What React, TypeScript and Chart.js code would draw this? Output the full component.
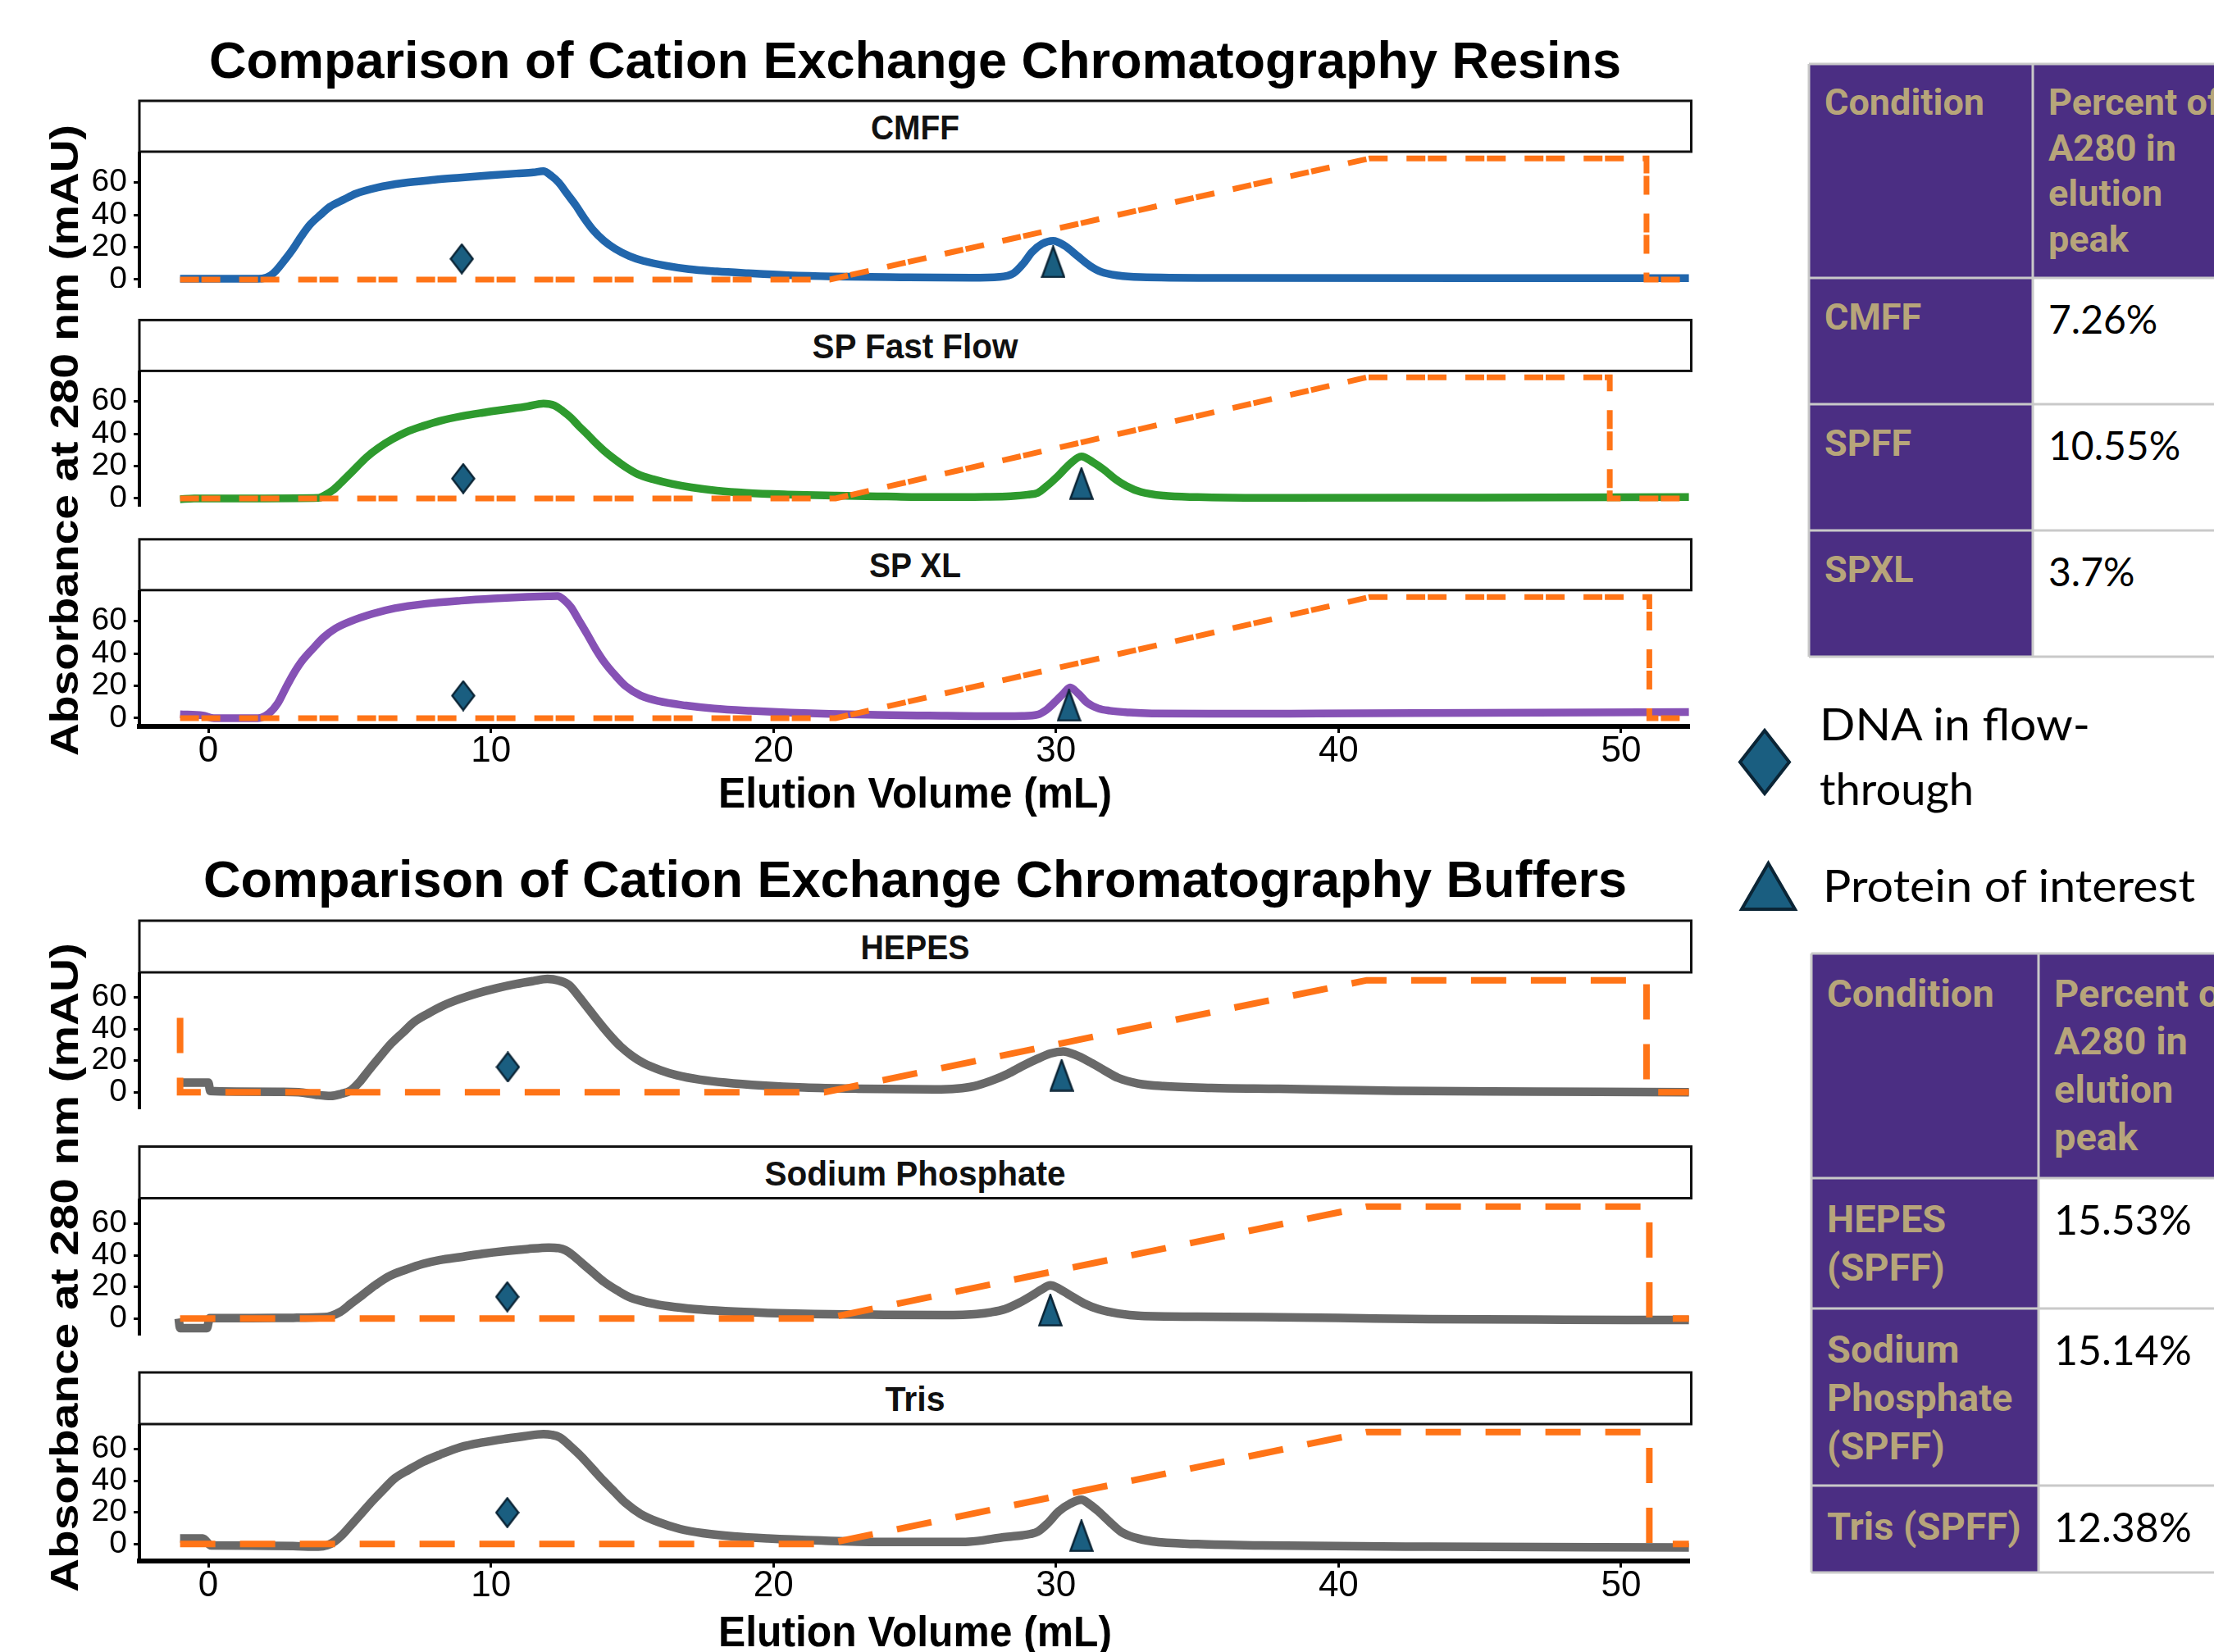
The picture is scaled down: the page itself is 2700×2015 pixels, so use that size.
import React, { useEffect, useRef } from 'react';
import { Chart, registerables } from 'chart.js';

Chart.register(...registerables);

// ------------------------------------------------------------------ data
// Elution volume (mL) / absorbance (mAU)
const cmffVol = [-1.0, 0.0, 1.0, 1.6, 1.9, 2.2, 2.4, 2.7, 3.0, 3.3, 3.6, 4.0, 4.3, 4.8, 5.2, 6.0, 6.9, 8.0, 8.9, 10.0, 10.9, 11.5, 11.85, 12.15, 12.4, 12.7, 13.0, 13.3, 13.6, 14.0, 14.4, 14.9, 15.4, 16.2, 17.0, 18.0, 19.1, 20.5, 22.1, 24.5, 27.0, 28.0, 28.5, 28.85, 29.15, 29.5, 29.9, 30.3, 30.8, 31.2, 31.6, 32.2, 33.0, 36.0, 45.0, 52.4];
const cmffAbs = [0.5, 0.5, 0.5, 0.5, 0.6, 2.5, 5.6, 12, 19, 27, 34, 40.5, 45, 49.5, 53, 57, 59.7, 61.7, 63, 64.5, 65.6, 66.3, 67, 64, 60, 53, 46, 38, 31, 24, 19, 14.5, 11.5, 8.5, 6.4, 5, 3.9, 2.7, 1.9, 1.4, 1.1, 1.6, 3.9, 10, 17, 22, 24, 21, 14, 8.5, 4.7, 2.5, 1.5, 1.0, 0.8, 0.8];

const spffVol = [-1.0, -0.5, 0.0, 2.0, 3.9, 4.1, 4.4, 4.67, 5.0, 5.25, 5.6, 6.0, 6.5, 7.0, 7.6, 8.2, 9.0, 9.7, 10.5, 11.3, 11.86, 12.25, 12.55, 12.83, 13.1, 13.41, 13.7, 14.0, 14.4, 14.77, 15.2, 15.75, 16.4, 17.1, 18.0, 19.05, 20.5, 22.2, 24.0, 25.7, 27.5, 28.4, 29.0, 29.35, 29.7, 30.1, 30.5, 30.9, 31.3, 31.7, 32.1, 32.5, 33.0, 33.8, 35.0, 37.3, 45.0, 52.4];
const spffAbs = [-0.5, 0, 0, 0, 0.3, 1.7, 5, 9.3, 15, 19.4, 25.5, 31, 36.5, 41, 44.8, 48, 51, 53, 55, 57, 58.7, 57.5, 54, 50, 45, 39.7, 34.5, 29.6, 24, 19.4, 15, 11.8, 9, 6.8, 4.8, 3.4, 2.4, 1.7, 1.2, 0.8, 1.0, 1.4, 2.3, 3.4, 8, 14.4, 21.5, 26, 22.5, 17.7, 12, 7.6, 4, 1.7, 0.8, 0.3, 0.5, 0.8];

const spxlVol = [-1.0, -0.2, 0.2, 1.75, 2.14, 2.45, 2.72, 3.0, 3.3, 3.7, 4.08, 4.5, 5.05, 5.8, 6.6, 7.7, 8.94, 10.1, 11.28, 12.0, 12.36, 12.6, 12.83, 13.1, 13.41, 13.7, 14.0, 14.4, 14.77, 15.3, 15.94, 16.9, 17.9, 19.2, 20.6, 22.0, 23.7, 25.5, 27.6, 28.8, 29.35, 29.65, 29.94, 30.25, 30.5, 30.8, 31.1, 31.5, 31.9, 32.6, 33.4, 36.0, 39.3, 45.0, 52.4];
const spxlAbs = [2.4, 1.7, 0, 0, 2.9, 9, 18, 27, 35, 43, 50, 55.5, 60, 64.5, 68, 70.8, 72.7, 74, 75, 75.4, 75.6, 73, 68.8, 61, 51.9, 43, 35, 26.5, 19.8, 14, 10.5, 7.8, 5.9, 4.5, 3.4, 2.6, 2.0, 1.6, 1.2, 1.4, 2.2, 5, 9.6, 15, 19, 15, 9.6, 6, 4.6, 3.5, 2.9, 2.7, 2.9, 3.3, 3.8];

const hepesVol = [-1.0, 0.0, 0.07, 1.0, 2.5, 3.2, 3.8, 4.33, 4.7, 5.04, 5.35, 5.65, 6.05, 6.46, 6.9, 7.28, 7.8, 8.3, 8.9, 9.5, 10.2, 10.9, 11.5, 12.0, 12.4, 12.77, 13.07, 13.37, 13.67, 13.98, 14.3, 14.6, 15.0, 15.4, 16.0, 16.6, 17.4, 18.3, 19.6, 21.1, 23.0, 25.7, 26.5, 27.1, 27.7, 28.3, 28.8, 29.35, 29.8, 30.26, 30.7, 31.17, 31.7, 32.2, 32.9, 33.8, 35.5, 37.9, 42.0, 47.0, 52.4];
const hepesAbs = [6.1, 6.1, 0.8, 0.5, 0.3, 0, -1.5, -2.3, -1.0, 1.2, 6.5, 13.3, 22, 30.6, 38, 44.4, 50, 54.7, 59, 62.5, 65.8, 68.5, 70.3, 71.6, 70.6, 67.7, 61.5, 54.7, 47.8, 40.9, 34.3, 28.8, 23, 18.5, 14, 10.7, 8, 6.1, 4.3, 3.0, 2.3, 1.9, 2.4, 3.9, 7.2, 11.7, 16.5, 21.2, 24.5, 25.8, 23.5, 19.4, 14, 9.1, 5.6, 3.9, 2.8, 2.2, 1.0, 0.5, 0];

const napVol = [-1.05, -1.0, -0.05, 0.05, 1.5, 3.0, 4.1, 4.67, 5.05, 5.44, 5.9, 6.4, 7.0, 7.58, 8.2, 8.94, 9.7, 10.5, 11.3, 12.05, 12.4, 12.64, 12.9, 13.2, 13.6, 14.0, 14.5, 14.97, 15.6, 16.3, 17.2, 18.3, 19.8, 21.4, 23.5, 26.0, 26.7, 27.2, 27.7, 28.2, 28.7, 29.16, 29.5, 29.8, 30.1, 30.5, 31.0, 31.5, 32.2, 33.0, 35.0, 37.3, 40.0, 43.2, 48.0, 52.4];
const napAbs = [0, -6, -6, 0.3, 0.3, 0.5, 0.9, 4.3, 9.5, 14.7, 21, 26.8, 31, 34.5, 37, 38.9, 41, 42.7, 44, 44.9, 44.5, 43.2, 40, 35.4, 29.3, 23.3, 17.5, 13, 10, 7.8, 6, 4.7, 3.6, 2.9, 2.5, 2.2, 2.4, 2.9, 4.0, 6, 10, 14.7, 18.5, 21, 19, 14.7, 9.5, 6, 3.2, 1.7, 1.2, 0.9, 0.4, -0.3, -0.7, -0.9];

const trisVol = [-1.0, -0.2, 0.1, 1.5, 3.0, 3.9, 4.2, 4.47, 4.75, 5.05, 5.45, 5.83, 6.2, 6.6, 7.1, 7.58, 8.2, 8.94, 9.7, 10.5, 11.2, 11.86, 12.15, 12.44, 12.8, 13.2, 13.6, 14.0, 14.4, 14.77, 15.3, 15.94, 16.7, 17.5, 18.6, 19.8, 21.7, 23.7, 26.8, 27.4, 27.8, 28.3, 28.8, 29.1, 29.35, 29.7, 30.1, 30.5, 30.9, 31.2, 31.5, 31.9, 32.3, 32.8, 33.4, 35.0, 37.3, 43.2, 52.4];
const trisAbs = [3.5, 3.5, -0.9, -1.0, -1.3, -1.7, -0.8, 1.7, 6, 12, 20, 27.6, 34.5, 41.5, 47, 51.8, 56.5, 61.3, 64.2, 66.5, 68.2, 69.4, 69, 67.4, 62, 55.3, 47.5, 39.7, 32.5, 25.9, 19, 13.8, 9.5, 6.9, 4.8, 3.5, 2.2, 1.4, 1.4, 2.3, 3.5, 4.6, 5.5, 6.4, 7.8, 13, 20.7, 25.5, 28, 25, 20.7, 14, 7.8, 4, 1.7, 0, -0.9, -1.7, -2.1];

// Conductivity / gradient trace (scaled into mAU units on the plot)
const cmffCondVol = [-1.0, 22.0, 41.1, 50.9, 50.9, 52.4];
const cmffCond = [0, 0, 74.9, 74.9, 0, 0];
const spffCondVol = [-1.0, 22.2, 41.0, 49.6, 49.6, 52.4];
const spffCond = [0, 0, 74.9, 74.9, 0, 0];
const spxlCondVol = [-1.0, 22.2, 41.1, 51.0, 51.0, 52.4];
const spxlCond = [0, 0, 74.9, 74.9, 0, 0];
const hepesCondVol = [-1.0, -1.0, 21.8, 41.0, 50.9, 50.9, 52.4];
const hepesCond = [47, 0, 0, 70.8, 70.8, 0, 0];
const napCondVol = [-1.0, 21.85, 41.0, 51.0, 51.0, 52.4];
const napCond = [0, 0, 70.8, 70.8, 0, 0];
const trisCondVol = [-1.0, 21.85, 41.0, 51.0, 51.0, 52.4];
const trisCond = [0, 0, 70.8, 70.8, 0, 0];

// Markers, in panel order CMFF, SP FF, SP XL, HEPES, Sodium Phosphate, Tris
const dnaVol = [8.97, 9.02, 9.02, 10.6, 10.58, 10.58];
const dnaAbs = [12.8, 12.3, 13.9, 16.0, 13.8, 19.9];
const proteinVol = [29.9, 30.9, 30.46, 30.2, 29.8, 30.9];
const proteinAbs = [10.9, 9.2, 7.9, 10.7, 5.3, 5.2];

const xTickValues = [0, 10, 20, 30, 40, 50];
const yTickValues = [0, 20, 40, 60];

const resinPanelNames = ['CMFF', 'SP Fast Flow', 'SP XL'];
const bufferPanelNames = ['HEPES', 'Sodium Phosphate', 'Tris'];
const resinTitle = 'Comparison of Cation Exchange Chromatography Resins';
const bufferTitle = 'Comparison of Cation Exchange Chromatography Buffers';
const yAxisTitle = 'Absorbance at 280 nm (mAU)';
const xAxisTitle = 'Elution Volume (mL)';

const conditionHeader = 'Condition';
const percentHeaderLines = ['Percent of', 'A280 in', 'elution', 'peak'];
const resinConditions = [['CMFF'], ['SPFF'], ['SPXL']];
const resinPercents = ['7.26%', '10.55%', '3.7%'];
const bufferConditions = [['HEPES', '(SPFF)'], ['Sodium', 'Phosphate', '(SPFF)'], ['Tris (SPFF)']];
const bufferPercents = ['15.53%', '15.14%', '12.38%'];
const legendDnaLines = ['DNA in flow-', 'through'];
const legendProtein = 'Protein of interest';

// ------------------------------------------------------------------ style / layout
const ORANGE = '#ff7417';
const MARKER_FILL = '#1a5e80';
const MARKER_STROKE = '#0b2536';
const UW_PURPLE = '#4b2e83';
const UW_GOLD = '#b7a57a';
const TABLE_LINE = '#c9c9c9';
const SANS = "'Liberation Sans', Arial, Helvetica, sans-serif";
const NARROW = "'Liberation Sans Narrow', 'Liberation Sans', Arial, sans-serif";

const PLOT_LEFT = 170;
const PLOT_RIGHT = 2061;
const X_MIN = -2.44;
const X_MAX = 52.44;
const X_AXIS_H = 70;

const TOP_STRIP = [123, 390.4, 657.8];
const TOP_STRIP_H = 62;
const TOP_PLOT_H = 166;
const BOT_STRIP = [1123, 1398.5, 1674];
const BOT_STRIP_H = 63;
const BOT_PLOT_H = 167;

const stripLabelWidths = [108, 251, 112, 133, 367, 73];

type PanelSpec = {
  idx: number;
  name: string;
  vol: number[];
  abs: number[];
  condVol: number[];
  cond: number[];
  color: string;
  top: number;
  plotH: number;
  isBottom: boolean;
  yMin: number;
  yMax: number;
  dash: number[];
  condWidth: number;
  uvWidth: number;
};

const panels: PanelSpec[] = [
  { idx: 0, name: resinPanelNames[0], vol: cmffVol, abs: cmffAbs, condVol: cmffCondVol, cond: cmffCond, color: '#2166ac', top: TOP_STRIP[0] + TOP_STRIP_H, plotH: TOP_PLOT_H, isBottom: false, yMin: -5.1, yMax: 79.1, dash: [23, 3, 23, 23], condWidth: 7, uvWidth: 9.5 },
  { idx: 1, name: resinPanelNames[1], vol: spffVol, abs: spffAbs, condVol: spffCondVol, cond: spffCond, color: '#2e9a2e', top: TOP_STRIP[1] + TOP_STRIP_H, plotH: TOP_PLOT_H, isBottom: false, yMin: -5.1, yMax: 79.1, dash: [23, 3, 23, 23], condWidth: 7, uvWidth: 9.5 },
  { idx: 2, name: resinPanelNames[2], vol: spxlVol, abs: spxlAbs, condVol: spxlCondVol, cond: spxlCond, color: '#8652b5', top: TOP_STRIP[2] + TOP_STRIP_H, plotH: TOP_PLOT_H, isBottom: true, yMin: -5.1, yMax: 79.1, dash: [23, 3, 23, 23], condWidth: 7, uvWidth: 9.5 },
  { idx: 3, name: bufferPanelNames[0], vol: hepesVol, abs: hepesAbs, condVol: hepesCondVol, cond: hepesCond, color: '#696969', top: BOT_STRIP[0] + BOT_STRIP_H, plotH: BOT_PLOT_H, isBottom: false, yMin: -10.7, yMax: 75.8, dash: [43, 30], condWidth: 8, uvWidth: 10.5 },
  { idx: 4, name: bufferPanelNames[1], vol: napVol, abs: napAbs, condVol: napCondVol, cond: napCond, color: '#696969', top: BOT_STRIP[1] + BOT_STRIP_H, plotH: BOT_PLOT_H, isBottom: false, yMin: -10.7, yMax: 75.8, dash: [43, 30], condWidth: 8, uvWidth: 10.5 },
  { idx: 5, name: bufferPanelNames[2], vol: trisVol, abs: trisAbs, condVol: trisCondVol, cond: trisCond, color: '#696969', top: BOT_STRIP[2] + BOT_STRIP_H, plotH: BOT_PLOT_H, isBottom: true, yMin: -10.7, yMax: 75.8, dash: [43, 30], condWidth: 8, uvWidth: 10.5 },
];

function zip(xs: number[], ys: number[]) {
  return xs.map((x, i) => ({ x, y: ys[i] }));
}

function makeMarker(kind: 'diamond' | 'triangle', w: number, h: number): HTMLCanvasElement {
  const c = document.createElement('canvas');
  c.width = w;
  c.height = h;
  const ctx = c.getContext('2d')!;
  const s = 1.5;
  ctx.beginPath();
  if (kind === 'diamond') {
    ctx.moveTo(w / 2, s);
    ctx.lineTo(w - s, h / 2);
    ctx.lineTo(w / 2, h - s);
    ctx.lineTo(s, h / 2);
  } else {
    ctx.moveTo(w / 2, s);
    ctx.lineTo(w - s, h - s);
    ctx.lineTo(s, h - s);
  }
  ctx.closePath();
  ctx.fillStyle = MARKER_FILL;
  ctx.fill();
  ctx.lineWidth = 2.5;
  ctx.lineJoin = 'miter';
  ctx.strokeStyle = MARKER_STROKE;
  ctx.stroke();
  return c;
}

function ChartPanel({ spec }: { spec: PanelSpec }) {
  const ref = useRef<HTMLCanvasElement | null>(null);
  const canvasH = spec.plotH + (spec.isBottom ? X_AXIS_H : 0);

  useEffect(() => {
    const canvas = ref.current;
    if (!canvas) return;
    const diamond = makeMarker('diamond', 30, 38);
    const triangle = makeMarker('triangle', 30, 40);
    const chart = new Chart(canvas, {
      type: 'line',
      data: {
        datasets: [
          { label: 'DNA in flow-through', data: [{ x: dnaVol[spec.idx], y: dnaAbs[spec.idx] }], showLine: false, pointStyle: diamond as any, pointRadius: 14, order: 0, clip: false },
          { label: 'Protein of interest', data: [{ x: proteinVol[spec.idx], y: proteinAbs[spec.idx] }], showLine: false, pointStyle: triangle as any, pointRadius: 14, order: 0, clip: false },
          { label: 'Gradient', data: zip(spec.condVol, spec.cond), borderColor: ORANGE, borderWidth: spec.condWidth, borderDash: spec.dash, pointRadius: 0, tension: 0, fill: false, order: 1 },
          { label: spec.name, data: zip(spec.vol, spec.abs), borderColor: spec.color, borderWidth: spec.uvWidth, pointRadius: 0, cubicInterpolationMode: 'monotone', borderJoinStyle: 'round', fill: false, order: 2 },
        ] as any,
      },
      options: {
        animation: false,
        responsive: false,
        maintainAspectRatio: false,
        devicePixelRatio: 1,
        events: [],
        layout: { padding: 0, autoPadding: false },
        plugins: { legend: { display: false }, tooltip: { enabled: false }, title: { display: false } },
        scales: {
          x: {
            type: 'linear',
            position: 'bottom',
            min: X_MIN,
            max: X_MAX,
            display: spec.isBottom,
            afterBuildTicks: (s: any) => { s.ticks = xTickValues.map((v) => ({ value: v })); },
            afterFit: spec.isBottom ? (s: any) => { s.height = X_AXIS_H; s.paddingLeft = 0; s.paddingRight = 0; } : undefined,
            ticks: { autoSkip: false, maxRotation: 0, minRotation: 0, padding: -4, color: '#000', font: { family: NARROW, size: 44 } },
            grid: { drawOnChartArea: false, drawTicks: true, tickLength: 8, color: '#000', lineWidth: 3 },
            border: { display: true, color: '#000', width: 6 },
          },
          y: {
            type: 'linear',
            position: 'left',
            min: spec.yMin,
            max: spec.yMax,
            afterBuildTicks: (s: any) => { s.ticks = yTickValues.map((v) => ({ value: v })); },
            afterFit: (s: any) => { s.width = PLOT_LEFT; s.paddingTop = 0; s.paddingBottom = 0; },
            ticks: { autoSkip: false, padding: 8, color: '#000', font: { family: SANS, size: 39 } },
            grid: { drawOnChartArea: false, drawTicks: true, tickLength: 7, color: '#000', lineWidth: 3 },
            border: { display: true, color: '#000', width: 4 },
          },
        },
      } as any,
    });
    return () => chart.destroy();
  }, []);

  return (
    <canvas
      ref={ref}
      width={PLOT_RIGHT}
      height={canvasH}
      style={{ position: 'absolute', left: 0, top: spec.top, width: PLOT_RIGHT, height: canvasH }}
    />
  );
}

function Strip({ top, h, label, width }: { top: number; h: number; label: string; width: number }) {
  return (
    <g>
      <rect x={PLOT_LEFT} y={top} width={2062.5 - PLOT_LEFT} height={h} fill="#fff" stroke="#111" strokeWidth={3} />
      <text x={1116} y={top + h / 2 + 15.5} textAnchor="middle" fontFamily={SANS} fontWeight={700} fontSize={43} fill="#111" textLength={width} lengthAdjust="spacingAndGlyphs">
        {label}
      </text>
    </g>
  );
}

type TableSpec = {
  x0: number; x1: number; x2: number;
  rows: number[]; // y boundaries
  headerBase: number; headerStep: number;
  rowBase: number; rowStep: number; valueBase: number;
  labelSize: number; valueSize: number; pad: number;
  conditions: string[][]; percents: string[];
};

function DataTable({ t }: { t: TableSpec }) {
  const y0 = t.rows[0];
  const yEnd = t.rows[t.rows.length - 1];
  return (
    <g>
      <rect x={t.x0} y={y0} width={t.x2 - t.x0} height={t.rows[1] - y0} fill={UW_PURPLE} />
      <rect x={t.x0} y={t.rows[1]} width={t.x1 - t.x0} height={yEnd - t.rows[1]} fill={UW_PURPLE} />
      <rect x={t.x1} y={t.rows[1]} width={t.x2 - t.x1} height={yEnd - t.rows[1]} fill="#fff" />
      {t.rows.map((y, i) => (
        <line key={'h' + i} x1={t.x0} x2={t.x2} y1={y} y2={y} stroke={TABLE_LINE} strokeWidth={3} />
      ))}
      <line x1={t.x0} x2={t.x0} y1={y0} y2={yEnd} stroke={TABLE_LINE} strokeWidth={3} />
      <line x1={t.x1} x2={t.x1} y1={y0} y2={yEnd} stroke={TABLE_LINE} strokeWidth={3} />
      <text x={t.x0 + t.pad} y={y0 + t.headerBase} fontFamily="Roboto, 'Liberation Sans', sans-serif" fontWeight={700} fontSize={t.labelSize} fill={UW_GOLD}>
        {conditionHeader}
      </text>
      {percentHeaderLines.map((s, i) => (
        <text key={'ph' + i} x={t.x1 + t.pad} y={y0 + t.headerBase + i * t.headerStep} fontFamily="Roboto, 'Liberation Sans', sans-serif" fontWeight={700} fontSize={t.labelSize} fill={UW_GOLD}>
          {s}
        </text>
      ))}
      {t.conditions.map((lines, r) =>
        lines.map((s, i) => (
          <text key={'c' + r + '-' + i} x={t.x0 + t.pad} y={t.rows[r + 1] + t.rowBase + i * t.rowStep} fontFamily="Roboto, 'Liberation Sans', sans-serif" fontWeight={700} fontSize={t.labelSize} fill={UW_GOLD}>
            {s}
          </text>
        ))
      )}
      {t.percents.map((s, r) => (
        <text key={'p' + r} x={t.x1 + t.pad} y={t.rows[r + 1] + t.valueBase} fontFamily="Lato, 'Open Sans', sans-serif" fontWeight={400} fontSize={t.valueSize} fill="#000">
          {s}
        </text>
      ))}
    </g>
  );
}

const resinTable: TableSpec = {
  x0: 2206, x1: 2479, x2: 2780, rows: [78, 339, 493, 647, 801],
  headerBase: 62, headerStep: 55.7, rowBase: 63, rowStep: 58, valueBase: 68,
  labelSize: 45, valueSize: 48, pad: 19,
  conditions: resinConditions, percents: resinPercents,
};

const bufferTable: TableSpec = {
  x0: 2209, x1: 2486, x2: 2780, rows: [1163, 1437, 1596, 1812, 1918],
  headerBase: 65, headerStep: 58.3, rowBase: 66, rowStep: 59, valueBase: 69,
  labelSize: 47, valueSize: 50, pad: 19,
  conditions: bufferConditions, percents: bufferPercents,
};

export default function App() {
  return (
    <div style={{ position: 'absolute', left: 0, top: 0, width: 2700, height: 2015, overflow: 'hidden', background: '#fff' }}>
      <svg width={2700} height={2015} style={{ position: 'absolute', left: 0, top: 0 }}>
        <text x={1116} y={94.5} textAnchor="middle" fontFamily={SANS} fontWeight={700} fontSize={63} fill="#000" textLength={1722} lengthAdjust="spacingAndGlyphs">
          {resinTitle}
        </text>
        <text x={1116} y={1094} textAnchor="middle" fontFamily={SANS} fontWeight={700} fontSize={63} fill="#000" textLength={1736} lengthAdjust="spacingAndGlyphs">
          {bufferTitle}
        </text>

        {TOP_STRIP.map((t, i) => (
          <Strip key={'ts' + i} top={t} h={TOP_STRIP_H} label={resinPanelNames[i]} width={stripLabelWidths[i]} />
        ))}
        {BOT_STRIP.map((t, i) => (
          <Strip key={'bs' + i} top={t} h={BOT_STRIP_H} label={bufferPanelNames[i]} width={stripLabelWidths[3 + i]} />
        ))}

        <text x={95} y={537} transform="rotate(-90 95 537)" textAnchor="middle" fontFamily={SANS} fontWeight={700} fontSize={49} fill="#000" textLength={770} lengthAdjust="spacingAndGlyphs">
          {yAxisTitle}
        </text>
        <text x={95} y={1546} transform="rotate(-90 95 1546)" textAnchor="middle" fontFamily={SANS} fontWeight={700} fontSize={49} fill="#000" textLength={792} lengthAdjust="spacingAndGlyphs">
          {yAxisTitle}
        </text>
        <text x={1116} y={985} textAnchor="middle" fontFamily={SANS} fontWeight={700} fontSize={51} fill="#000" textLength={480} lengthAdjust="spacingAndGlyphs">
          {xAxisTitle}
        </text>
        <text x={1116} y={2008} textAnchor="middle" fontFamily={SANS} fontWeight={700} fontSize={51} fill="#000" textLength={480} lengthAdjust="spacingAndGlyphs">
          {xAxisTitle}
        </text>

        <DataTable t={resinTable} />
        <DataTable t={bufferTable} />

        <polygon points="2152,891 2182,929.5 2152,968 2122,929.5" fill={MARKER_FILL} stroke={MARKER_STROKE} strokeWidth={4} />
        <polygon points="2156.5,1053 2189,1109 2124,1109" fill={MARKER_FILL} stroke={MARKER_STROKE} strokeWidth={4} />
        <text x={2219} y={903} fontFamily="Lato, 'Open Sans', sans-serif" fontSize={54} fill="#000" textLength={330} lengthAdjust="spacingAndGlyphs">
          {legendDnaLines[0]}
        </text>
        <text x={2219} y={982} fontFamily="Lato, 'Open Sans', sans-serif" fontSize={54} fill="#000" textLength={188} lengthAdjust="spacingAndGlyphs">
          {legendDnaLines[1]}
        </text>
        <text x={2223} y={1100} fontFamily="Lato, 'Open Sans', sans-serif" fontSize={54} fill="#000" textLength={454} lengthAdjust="spacingAndGlyphs">
          {legendProtein}
        </text>
      </svg>

      {panels.map((p) => (
        <ChartPanel key={p.idx} spec={p} />
      ))}
    </div>
  );
}
